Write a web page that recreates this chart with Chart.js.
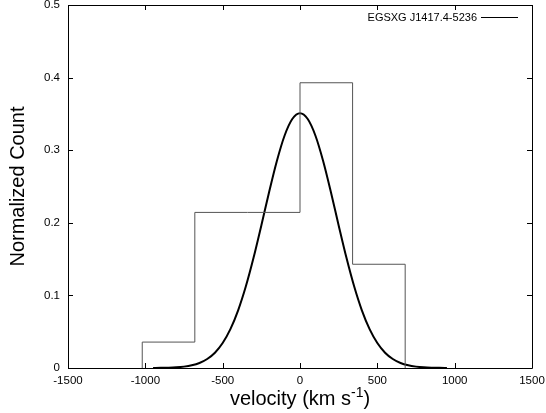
<!DOCTYPE html>
<html>
<head>
<meta charset="utf-8">
<script src="https://cdn.jsdelivr.net/npm/chart.js@4.4.1/dist/chart.umd.min.js"></script>
<style>
  body { margin: 0; background: #fff; }
  #wrap { width: 546px; height: 413px; }
</style>
</head>
<body>
<div id="wrap"><canvas id="chart" width="546" height="413"></canvas></div>
<script>
// histogram of normalized counts, bins of ~340 km/s
const seriesName = 'EGSXG J1417.4-5236';
const binEdges = [-1020, -680, -340, 0, 340, 680];
const binCounts = [0.0357, 0.2143, 0.2143, 0.3929, 0.1429];

// gaussian fit curve, every 50 km/s
const fitVelocity = [-950, -900, -850, -800, -750, -700, -650, -600, -550, -500,
  -450, -400, -350, -300, -250, -200, -150, -100, -50, 0,
  50, 100, 150, 200, 250, 300, 350, 400, 450, 500,
  550, 600, 650, 700, 750, 800, 850, 900, 950];
const fitCount = [0.0001, 0.0002, 0.0004, 0.0009, 0.0019, 0.0037, 0.0069, 0.0124, 0.0211, 0.0344,
  0.0535, 0.0794, 0.1125, 0.1521, 0.1964, 0.2421, 0.2848, 0.3199, 0.3429, 0.3510,
  0.3429, 0.3199, 0.2848, 0.2421, 0.1964, 0.1521, 0.1125, 0.0794, 0.0535, 0.0344,
  0.0211, 0.0124, 0.0069, 0.0037, 0.0019, 0.0009, 0.0004, 0.0002, 0.0001];

const xTickLabels = ['-1500', '-1000', '-500', '0', '500', '1000', '1500'];
const yTickLabels = ['0', '0.1', '0.2', '0.3', '0.4', '0.5'];
const xTitle = 'velocity (km s';
const xTitleSup = '-1';
const yTitle = 'Normalized Count';

const FONT = '"Liberation Sans", Arial, Helvetica, sans-serif';

// step outline: start on baseline, one point per bin, back down at the last edge
let histPoints = [{ x: binEdges[0], y: 0 }];
for (let i = 0; i < binCounts.length; i++) {
  histPoints.push({ x: binEdges[i], y: binCounts[i] });
}
histPoints.push({ x: binEdges[binEdges.length - 1], y: 0 });

const fitPoints = fitVelocity.map((v, i) => ({ x: v, y: fitCount[i] }));

// gnuplot style frame with inward ticks on all four sides, titles and key
const framePlugin = {
  id: 'frame',
  afterDraw(chart) {
    const ctx = chart.ctx;
    const a = chart.chartArea;
    const xs = chart.scales.x, ys = chart.scales.y;
    ctx.save();
    ctx.strokeStyle = '#000';
    ctx.lineWidth = 1;
    ctx.beginPath();
    ctx.rect(Math.round(a.left) + 0.5, Math.round(a.top) + 0.5,
      Math.round(a.right - a.left), Math.round(a.bottom - a.top));
    ctx.stroke();

    const tl = 5;
    ctx.beginPath();
    xs.ticks.forEach(t => {
      const px = Math.round(xs.getPixelForValue(t.value)) + 0.5;
      ctx.moveTo(px, a.bottom); ctx.lineTo(px, a.bottom - tl);
      ctx.moveTo(px, a.top); ctx.lineTo(px, a.top + tl);
    });
    ys.ticks.forEach(t => {
      const py = Math.round(ys.getPixelForValue(t.value)) + 0.5;
      ctx.moveTo(a.left, py); ctx.lineTo(a.left + tl, py);
      ctx.moveTo(a.right, py); ctx.lineTo(a.right - tl, py);
    });
    ctx.stroke();

    // key in the top right corner
    ctx.fillStyle = '#000';
    ctx.font = '11px ' + FONT;
    ctx.textAlign = 'right';
    ctx.textBaseline = 'alphabetic';
    const keyY = a.top + 12;
    ctx.fillText(seriesName, a.right - 55, keyY + 3.5);
    ctx.beginPath();
    ctx.moveTo(a.right - 51, Math.round(keyY) + 0.5);
    ctx.lineTo(a.right - 14, Math.round(keyY) + 0.5);
    ctx.stroke();

    // x title with superscript
    const mainFont = '20px ' + FONT;
    const supFont = '14px ' + FONT;
    ctx.font = mainFont;
    ctx.textAlign = 'left';
    const w1 = ctx.measureText(xTitle).width;
    ctx.font = supFont;
    const w2 = ctx.measureText(xTitleSup).width;
    ctx.font = mainFont;
    const w3 = ctx.measureText(')').width;
    let x0 = (a.left + a.right) / 2 - (w1 + w2 + w3) / 2;
    const base = 405;
    ctx.fillText(xTitle, x0, base);
    ctx.font = supFont;
    ctx.fillText(xTitleSup, x0 + w1, base - 8);
    ctx.font = mainFont;
    ctx.fillText(')', x0 + w1 + w2, base);

    // y title
    ctx.translate(18, (a.top + a.bottom) / 2);
    ctx.rotate(-Math.PI / 2);
    ctx.textAlign = 'center';
    ctx.textBaseline = 'middle';
    ctx.fillText(yTitle, 0, 0);
    ctx.restore();
  }
};

const ctx = document.getElementById('chart').getContext('2d');
const chart = new Chart(ctx, {
  type: 'line',
  data: {
    datasets: [
      {
        label: seriesName,
        data: histPoints,
        stepped: true,
        borderColor: '#555',
        borderWidth: 1,
        pointRadius: 0,
        fill: false
      },
      {
        label: 'fit',
        data: fitPoints,
        borderColor: '#000',
        borderWidth: 2,
        pointRadius: 0,
        cubicInterpolationMode: 'monotone',
        fill: false
      }
    ]
  },
  options: {
    responsive: false,
    animation: false,
    layout: { padding: { left: 0, right: 14, top: 5, bottom: 0 } },
    plugins: {
      legend: { display: false },
      tooltip: { enabled: false }
    },
    scales: {
      x: {
        type: 'linear',
        min: -1500,
        max: 1500,
        ticks: {
          stepSize: 500,
          color: '#000',
          padding: 6,
          maxRotation: 0,
          font: { family: FONT, size: 11.5 },
          callback: (v, i) => xTickLabels[i]
        },
        grid: { display: false, drawTicks: false },
        border: { display: false },
        afterFit: s => { s.height = 45; s.paddingLeft = 0; s.paddingRight = 0; }
      },
      y: {
        type: 'linear',
        min: 0,
        max: 0.5,
        ticks: {
          stepSize: 0.1,
          color: '#000',
          padding: 8,
          font: { family: FONT, size: 11.5, lineHeight: 1 },
          callback: (v, i) => yTickLabels[i]
        },
        grid: { display: false, drawTicks: false },
        border: { display: false },
        afterFit: s => { s.width = 68; s.paddingTop = 0; s.paddingBottom = 0; }
      }
    }
  },
  plugins: [framePlugin]
});
</script>
</body>
</html>
